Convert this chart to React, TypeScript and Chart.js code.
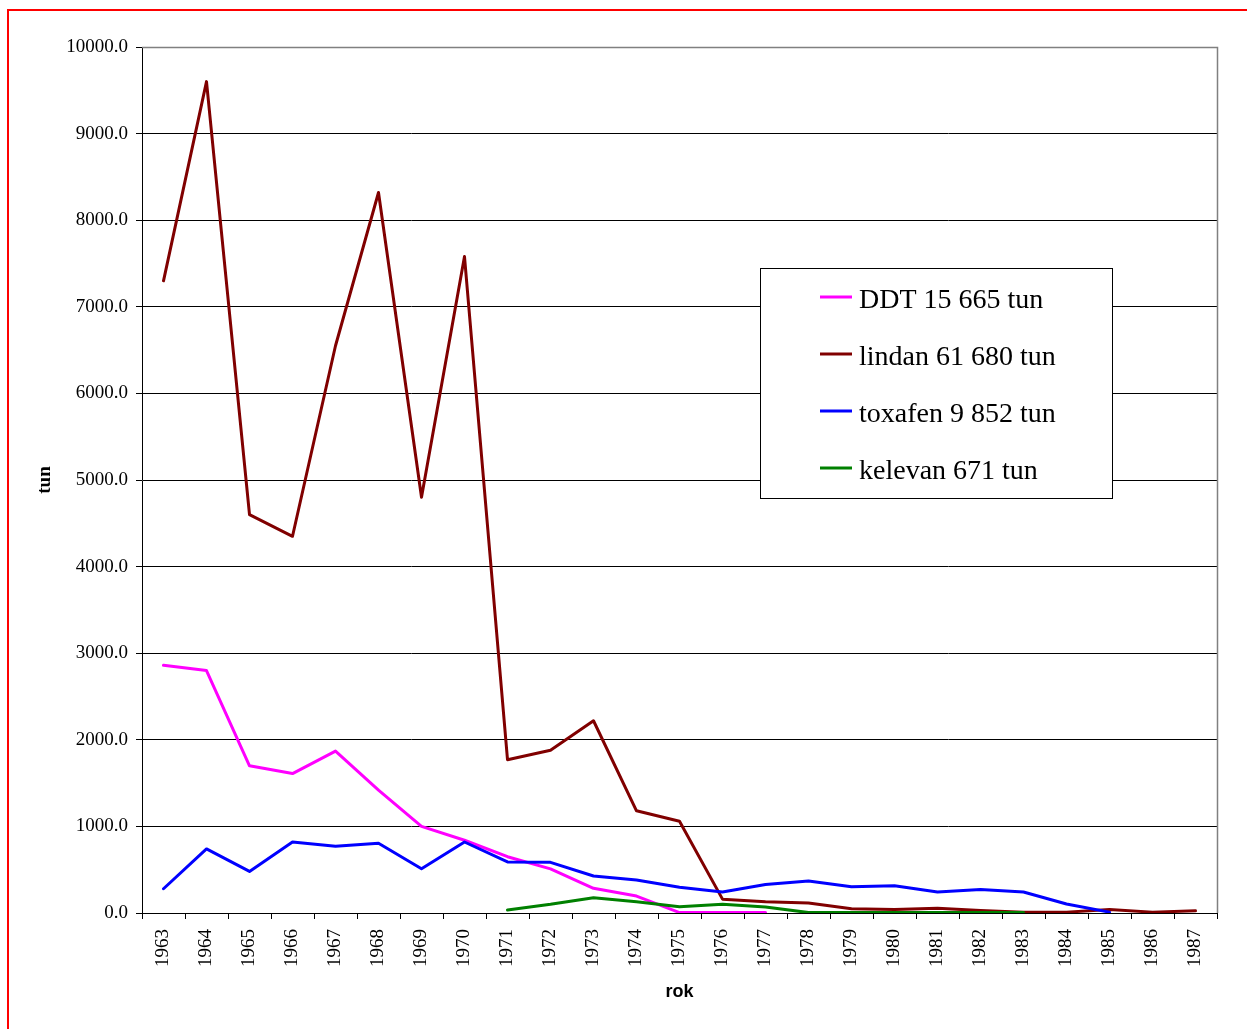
import React, { useEffect, useRef } from "react";
import { Chart, registerables } from "chart.js";

Chart.register(...registerables);

const years = [
  "1963", "1964", "1965", "1966", "1967", "1968", "1969", "1970", "1971", "1972",
  "1973", "1974", "1975", "1976", "1977", "1978", "1979", "1980", "1981", "1982",
  "1983", "1984", "1985", "1986", "1987",
];

const ddt: (number | null)[] = [
  2860, 2800, 1700, 1610, 1870, 1420, 1000, 840, 650, 510,
  285, 196, 5, 5, 5, null, null, null, null, null,
  null, null, null, null, null,
];

const lindan: (number | null)[] = [
  7300, 9600, 4600, 4350, 6550, 8320, 4800, 7580, 1770, 1880,
  2220, 1180, 1060, 160, 130, 115, 50, 40, 55, 30,
  10, 10, 40, 10, 25,
];

const toxafen: (number | null)[] = [
  280, 740, 480, 820, 770, 805, 510, 820, 590, 585,
  427, 381, 297, 242, 330, 370, 304, 315, 242, 270,
  242, 104, 10, null, null,
];

const kelevan: (number | null)[] = [
  null, null, null, null, null, null, null, null, 35, 100,
  177, 130, 73, 100, 70, 5, 5, 5, 5, 5,
  5, null, null, null, null,
];

const seriesNames = ["DDT 15 665 tun", "lindan 61 680 tun", "toxafen 9 852 tun", "kelevan 671 tun"];
const seriesColors = ["#FF00FF", "#800000", "#0000FF", "#008000"];

const yTicks = [0, 1000, 2000, 3000, 4000, 5000, 6000, 7000, 8000, 9000, 10000];

const serif = "'Liberation Serif', 'Times New Roman', serif";
const sans = "'Liberation Sans', Arial, sans-serif";

const decorPlugin = {
  id: "decor",
  beforeDatasetsDraw(chart: any) {
    const { ctx, chartArea } = chart;
    ctx.save();
    ctx.strokeStyle = "#808080";
    ctx.lineWidth = 1.5;
    ctx.beginPath();
    ctx.moveTo(chartArea.left, chartArea.top + 0.5);
    ctx.lineTo(chartArea.right + 0.5, chartArea.top + 0.5);
    ctx.lineTo(chartArea.right + 0.5, chartArea.bottom);
    ctx.stroke();
    ctx.restore();
  },
  afterDraw(chart: any) {
    const { ctx, chartArea } = chart;
    ctx.save();
    ctx.fillStyle = "#000";
    ctx.font = `bold 19px ${serif}`;
    ctx.textAlign = "center";
    ctx.textBaseline = "middle";
    ctx.translate(45, (chartArea.top + chartArea.bottom) / 2);
    ctx.rotate(-Math.PI / 2);
    ctx.fillText("tun", 0, 0);
    ctx.setTransform(1, 0, 0, 1, 0, 0);
    ctx.font = `bold 18px ${sans}`;
    ctx.fillText("rok", (chartArea.left + chartArea.right) / 2, 992);

    const bx = 760, by = 268, bw = 352, bh = 230;
    ctx.fillStyle = "#fff";
    ctx.fillRect(bx, by, bw, bh);
    ctx.strokeStyle = "#000";
    ctx.lineWidth = 1;
    ctx.strokeRect(bx + 0.5, by + 0.5, bw, bh);
    ctx.font = `28px ${serif}`;
    ctx.textAlign = "left";
    ctx.textBaseline = "alphabetic";
    for (let i = 0; i < seriesNames.length; i++) {
      const ly = 297 + i * 57;
      ctx.strokeStyle = seriesColors[i];
      ctx.lineWidth = 3;
      ctx.beginPath();
      ctx.moveTo(820, ly);
      ctx.lineTo(852, ly);
      ctx.stroke();
      ctx.fillStyle = "#000";
      ctx.fillText(seriesNames[i], 859, ly + 11);
    }
    ctx.restore();
  },
};

export default function App() {
  const ref = useRef<HTMLCanvasElement>(null);

  useEffect(() => {
    if (!ref.current) return;
    const allData = [ddt, lindan, toxafen, kelevan];
    const chart = new Chart(ref.current, {
      type: "line",
      data: {
        labels: years,
        datasets: allData.map((d, i) => ({
          label: seriesNames[i],
          data: d,
          borderColor: seriesColors[i],
          backgroundColor: seriesColors[i],
          borderWidth: 3,
          borderJoinStyle: "round" as const,
          borderCapStyle: "round" as const,
          pointRadius: 0,
          tension: 0,
          fill: false,
          spanGaps: false,
          order: 3 - i,
        })),
      },
      options: {
        animation: false,
        responsive: false,
        devicePixelRatio: 1,
        layout: { padding: { top: 47, right: 30, left: 0, bottom: 0 } },
        plugins: {
          legend: { display: false },
          tooltip: { enabled: false },
        },
        scales: {
          x: {
            type: "category",
            offset: true,
            grid: {
              offset: true,
              drawOnChartArea: false,
              drawTicks: true,
              tickLength: 6,
              color: "#000",
              lineWidth: 1,
            },
            border: { display: true, color: "#000", width: 1 },
            ticks: {
              autoSkip: false,
              minRotation: 90,
              maxRotation: 90,
              padding: 10,
              color: "#000",
              font: { family: serif, size: 19 },
            },
            afterFit: (s: any) => {
              s.height = 116;
            },
          },
          y: {
            min: 0,
            max: 10000,
            afterBuildTicks: (s: any) => {
              s.ticks = yTicks.map((v) => ({ value: v }));
            },
            grid: {
              drawTicks: true,
              tickLength: 6,
              color: "#000",
              lineWidth: 1,
            },
            border: { display: true, color: "#000", width: 1 },
            ticks: {
              padding: 8,
              color: "#000",
              font: { family: serif, size: 19 },
              callback: (v: any) => Number(v).toFixed(1),
            },
            afterFit: (s: any) => {
              s.width = 142;
            },
          },
        },
      },
      plugins: [decorPlugin],
    });
    return () => chart.destroy();
  }, []);

  return (
    <div style={{ position: "absolute", left: 0, top: 0, width: 1247, height: 1029, overflow: "hidden", background: "#fff" }}>
      <div
        style={{
          position: "absolute",
          left: 7,
          top: 9,
          width: 1400,
          height: 1200,
          borderTop: "2px solid #FF0000",
          borderLeft: "2px solid #FF0000",
        }}
      />
      <canvas ref={ref} width={1247} height={1029} style={{ position: "absolute", left: 0, top: 0 }} />
    </div>
  );
}
